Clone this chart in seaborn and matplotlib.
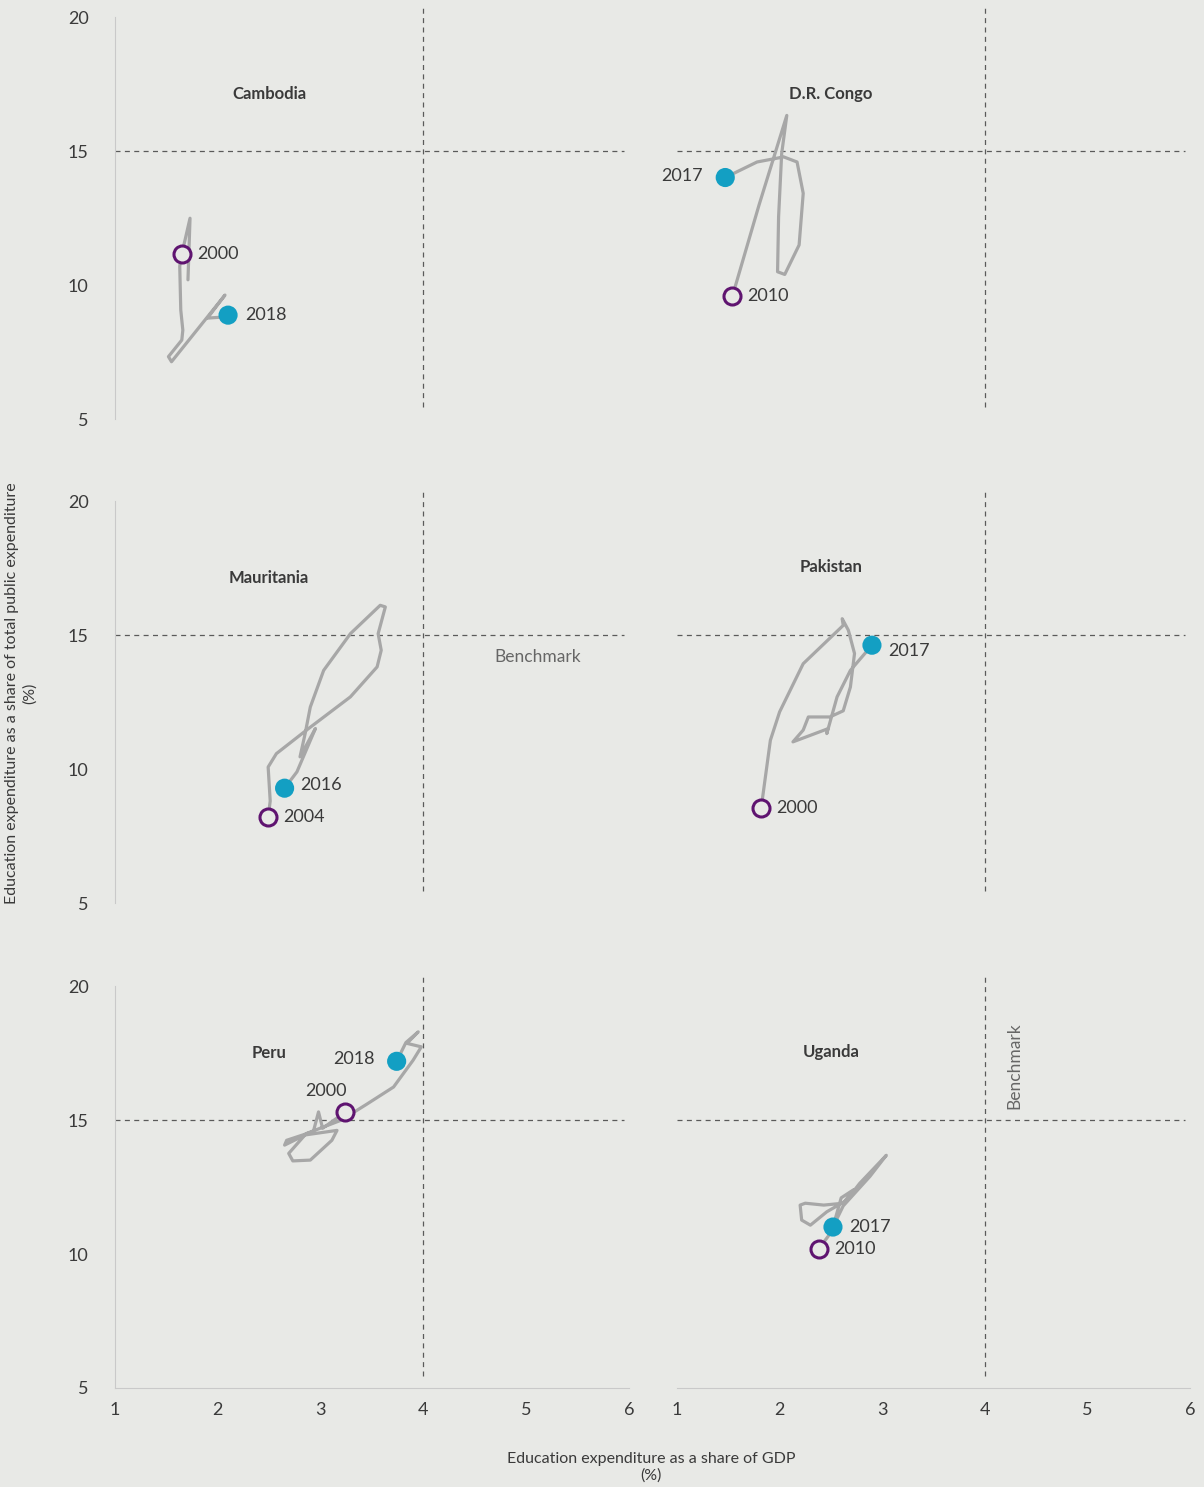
import numpy as np
import pandas as pd
import seaborn as sns
import matplotlib.pyplot as plt

# panels, in reading order
countries = ['Cambodia', 'D.R. Congo', 'Mauritania', 'Pakistan', 'Peru', 'Uganda']
start_years = ['2000', '2010', '2004', '2000', '2000', '2010']
end_years = ['2018', '2017', '2016', '2017', '2018', '2017']

# education expenditure: % of GDP (x) and % of total public expenditure (y)
cambodia_gdp = [1.65, 1.73, 1.71, 1.64, 1.63, 1.64, 1.66, 1.65, 1.52, 1.55, 2.07, 1.90, 2.02, 2.10]
cambodia_share = [11.16, 12.50, 10.20, 11.00, 10.70, 9.07, 8.32, 7.95, 7.33, 7.14, 9.63, 8.77, 8.80, 8.88]
cambodia_seg = [0, 0, 0, 1, 1, 1, 1, 1, 1, 1, 1, 1, 1, 1]

congo_gdp = [1.54, 1.80, 2.07, 2.02, 1.99, 1.98, 2.05, 2.19, 2.23, 2.17, 2.04, 1.78, 1.47]
congo_share = [9.59, 13.00, 16.34, 14.91, 12.55, 10.50, 10.40, 11.50, 13.43, 14.60, 14.79, 14.60, 14.02]

mauritania_gdp = [2.49, 2.51, 2.49, 2.57, 2.86, 3.29, 3.55, 3.59, 3.56, 3.63, 3.58, 3.29, 3.03,
                  2.90, 2.85, 2.80, 2.95, 2.77, 2.65]
mauritania_share = [8.21, 8.81, 10.08, 10.58, 11.45, 12.70, 13.82, 14.44, 15.06, 16.06, 16.12, 15.06, 13.69,
                    12.32, 11.33, 10.46, 11.52, 9.90, 9.29]

pakistan_gdp = [1.82, 1.91, 2.00, 2.23, 2.62, 2.61, 2.67, 2.73, 2.69, 2.62, 2.49, 2.28, 2.23, 2.13,
                2.47, 2.46, 2.56, 2.69, 2.90]
pakistan_share = [8.54, 11.08, 12.14, 13.94, 15.37, 15.62, 15.19, 14.32, 13.07, 12.18, 11.95, 11.95, 11.46, 11.02,
                  11.51, 11.33, 12.70, 13.69, 14.63]

peru_gdp = [3.24, 3.02, 2.98, 2.93, 2.67, 2.65, 2.85, 3.16, 3.11, 2.90, 2.73, 2.69, 2.86, 3.20, 3.45,
            3.71, 3.90, 3.98, 3.84, 3.95, 3.83, 3.74]
peru_share = [15.30, 14.70, 15.31, 14.58, 14.25, 14.07, 14.45, 14.62, 14.25, 13.51, 13.48, 13.76, 14.50, 15.00, 15.60,
              16.24, 17.24, 17.74, 17.87, 18.30, 17.90, 17.20]

uganda_gdp = [2.38, 2.48, 2.62, 2.88, 3.04, 2.78, 2.65, 2.46, 2.30, 2.215, 2.20, 2.25, 2.43, 2.62, 2.72, 2.60, 2.52]
uganda_share = [10.19, 10.70, 11.80, 12.90, 13.69, 12.64, 12.00, 11.58, 11.08, 11.27, 11.83, 11.90, 11.83, 11.90,
                12.40, 12.10, 11.01]

gdp = [cambodia_gdp, congo_gdp, mauritania_gdp, pakistan_gdp, peru_gdp, uganda_gdp]
share = [cambodia_share, congo_share, mauritania_share, pakistan_share, peru_share, uganda_share]
segs = [cambodia_seg, None, None, None, None, None]

title_y = [17.13, 17.13, 17.13, 17.54, 17.5, 17.54]
# label placement (offset in points, alignment) for start and end years
start_lab = [((11, 0), 'left'), ((11, 0), 'left'), ((11, 0), 'left'), ((11, 0), 'left'), ((-14, 15), 'center'), ((11, 0), 'left')]
end_lab = [((12, 0), 'left'), ((-16, 1), 'right'), ((11, 2), 'left'), ((12, -4), 'left'), ((-16, 2), 'right'), ((12, 0), 'left')]

bg = '#e8e9e6'
line_c = '#a7a7a7'
purple = '#5f1470'
teal = '#139fc3'
txt = '#3a3a3a'

sns.set_style('white')
plt.rcParams['font.family'] = ['Lato', 'DejaVu Sans']

fig = plt.figure(figsize=(12.04, 14.87), dpi=100, facecolor=bg)
lefts = [0.0955, 0.5623]
widths = [0.4269, 0.4261]
bottoms = [0.7182, 0.3927, 0.0666]
height = 0.2764

for i, name in enumerate(countries):
    r, c = divmod(i, 2)
    ax = fig.add_axes([lefts[c], bottoms[r], widths[c], height])
    ax.set_facecolor(bg)
    df = pd.DataFrame({'gdp': gdp[i], 'share': share[i]})
    df['seg'] = segs[i] if segs[i] is not None else 0
    ax.axhline(15, xmin=0, xmax=0.99, color='#5a5a5a', lw=0.9, ls=(0, (4, 3.5)), zorder=1)
    ax.axvline(4, ymin=0.03, ymax=1, color='#5a5a5a', lw=0.9, ls=(0, (4, 3.5)), zorder=1)
    sns.lineplot(data=df, x='gdp', y='share', units='seg', estimator=None, sort=False,
                 color=line_c, lw=2.3, ax=ax, zorder=2)
    first = df.iloc[[0]]
    last = df.iloc[[-1]]
    sns.scatterplot(data=first, x='gdp', y='share', s=150, facecolor=bg, edgecolor=purple,
                    linewidth=2.2, ax=ax, zorder=4)
    sns.scatterplot(data=last, x='gdp', y='share', s=190, color=teal, edgecolor='none', ax=ax, zorder=4)
    (off, ha) = start_lab[i]
    ax.annotate(start_years[i], (first.gdp.iloc[0], first.share.iloc[0]), xytext=off,
                textcoords='offset points', ha=ha, va='center', fontsize=13, color=txt)
    (off, ha) = end_lab[i]
    ax.annotate(end_years[i], (last.gdp.iloc[0], last.share.iloc[0]), xytext=off,
                textcoords='offset points', ha=ha, va='center', fontsize=13, color=txt)
    ax.text(2.5, title_y[i], name, ha='center', va='center', fontsize=12, fontweight='bold', color=txt)

    ax.set_xlim(1, 6)
    ax.set_ylim(5, 20.35)
    ax.set_xlabel('')
    ax.set_ylabel('')
    for s in ['top', 'right']:
        ax.spines[s].set_visible(False)
    if c == 0:
        ax.spines['left'].set_bounds(5, 20)
        ax.spines['left'].set_color('#c9c9c9')
        ax.set_yticks([5, 10, 15, 20])
        ax.tick_params(axis='y', direction='out', length=5, color='#c9c9c9', labelsize=13,
                       labelcolor=txt, pad=14)
    else:
        ax.spines['left'].set_visible(False)
        ax.set_yticks([])
    if r == 2:
        ax.spines['bottom'].set_color('#c9c9c9')
        ax.set_xticks([1, 2, 3, 4, 5, 6])
        ax.tick_params(axis='x', direction='in', length=5, color='#c9c9c9', labelsize=13,
                       labelcolor=txt, pad=10)
    else:
        ax.spines['bottom'].set_visible(False)
        ax.set_xticks([])

    if i == 2:
        ax.text(5.11, 14.18, 'Benchmark', ha='center', va='center', fontsize=12.5, color='#666666')
    if i == 5:
        ax.text(4.29, 17.05, 'Benchmark', ha='center', va='center', rotation=90, fontsize=12.5, color='#666666')

fig.text(0.0175, 0.534, 'Education expenditure as a share of total public expenditure\n(%)',
         rotation=90, ha='center', va='center', fontsize=11.5, color=txt, linespacing=1.25)
fig.text(0.5407, 0.0131, 'Education expenditure as a share of GDP\n(%)',
         ha='center', va='center', fontsize=11.5, color=txt, linespacing=1.25)

fig.savefig('out.png', dpi=100, facecolor=bg)
